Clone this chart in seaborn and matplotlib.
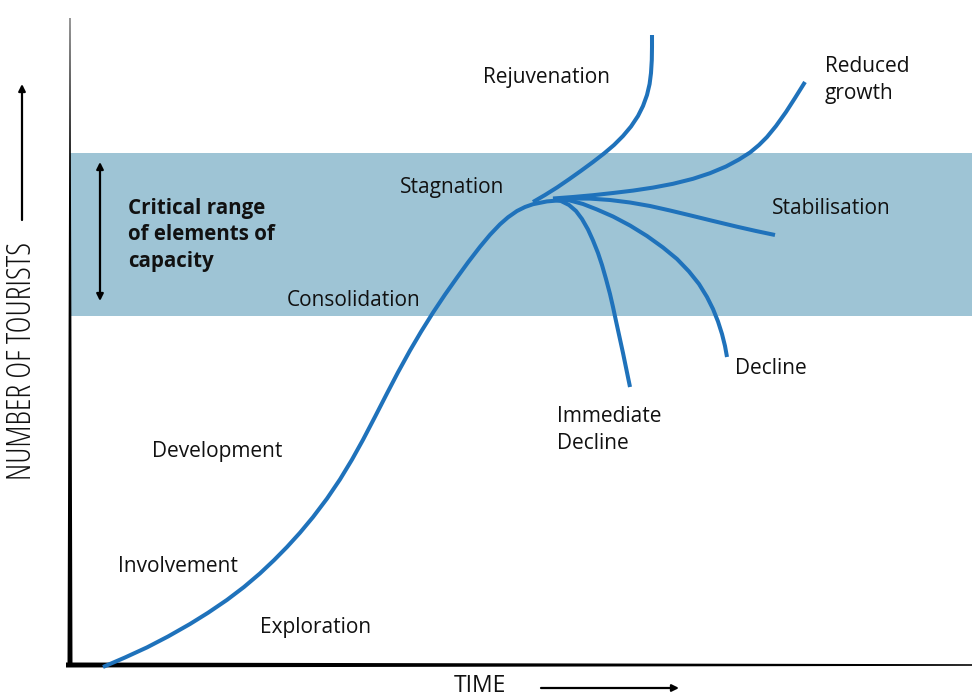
import numpy as np
import pandas as pd
import matplotlib
matplotlib.use("Agg")
import matplotlib.pyplot as plt
import seaborn as sns

# ---- data (time, tourists) (pixel space of the drawing) ----
main_t = [103, 125, 147, 168, 190, 208, 227, 244, 260, 274, 287, 300, 313, 327, 340, 352, 363,
          375, 387, 398, 410, 421, 433, 445, 457, 468, 480, 490, 500, 508, 517, 525, 533, 547, 560]
main_n = [667, 657.5, 647.4, 636.5, 624, 612.8, 599.9, 587, 573.4, 560.2, 547, 532.7, 517.1,
          498.6, 479.4, 459.6, 439.8, 416.8, 393.4, 372.3, 350.5, 331.8, 312.6, 294.6, 277.6,
          262.4, 246.8, 234.8, 224.3, 217.3, 211, 207, 204.2, 201.4, 200.3]

rejuv_t = [533, 545, 557, 569, 581, 593, 604, 614, 623, 631, 638, 643, 647, 649.6, 651, 651.8, 652, 652]
rejuv_n = [202, 195, 187.5, 179.3, 170.8, 162, 153.5, 145, 136, 126.5, 116, 106, 95, 84, 73, 60, 47, 35]

reduced_t = [553, 573, 593, 613, 633, 653, 673, 693, 710, 726, 739, 750, 759, 767, 776, 786, 795, 805]
reduced_n = [198.5, 197, 195.2, 193, 190.6, 187.6, 183.8, 178.8, 173.2, 166.5, 159.5, 152.5,
             145, 137, 126, 112, 98, 82]

stab_t = [553, 570, 590, 610, 630, 650, 670, 690, 712, 737, 756, 775]
stab_n = [199.5, 198.5, 198.6, 200, 202.5, 206, 210.5, 215.3, 220.7, 226.7, 231, 235]

decl_t = [560, 570, 583, 597, 613, 630, 647, 663, 677, 689, 699, 707, 713, 718, 722, 725, 727]
decl_n = [199, 200.5, 204, 209.5, 216.5, 225.5, 236, 247.5, 259, 271.5, 284, 297, 309, 321.5,
          334, 346, 357]

imm_t = [553, 561, 569, 576, 582, 588, 593, 598, 602, 606, 610, 613, 616, 619.5, 623, 626.5, 630]
imm_n = [199.5, 201, 205, 211, 219, 229.5, 240.5, 253, 265, 279, 294, 307, 321, 337, 353, 370, 387]

curves = {"main": (main_t, main_n), "rejuvenation": (rejuv_t, rejuv_n),
          "reduced": (reduced_t, reduced_n), "stabilisation": (stab_t, stab_n),
          "decline": (decl_t, decl_n), "immediate": (imm_t, imm_n)}

band_low, band_high = 316, 153

stage_labels = ["Rejuvenation", "Reduced\ngrowth", "Stagnation", "Stabilisation",
                "Consolidation", "Decline", "Immediate\nDecline", "Development",
                "Involvement", "Exploration"]
label_t = [483, 825, 400, 772, 287, 735, 557, 152, 118, 260]
label_n = [78, 80, 187, 209, 300, 368, 430, 452, 567, 627]

band_text = "Critical range\nof elements of\ncapacity"
xlabel = "TIME"
ylabel = "NUMBER OF TOURISTS"

# ---- drawing ----
sns.set_theme(style="white")
plt.rcParams["font.family"] = ["Open Sans", "DejaVu Sans"]

fig = plt.figure(figsize=(9.72, 6.99), dpi=100)
ax = fig.add_axes([0, 0, 1, 1])

blue = "#1f72bb"
band_col = "#9ec4d5"

ax.axhspan(band_high, band_low, xmin=70 / 972, xmax=1, color=band_col, zorder=0, lw=0)

# tapered axes
ax.fill([69.6, 70.4, 72.5, 67.5], [18, 18, 667, 667], color="black", lw=0, zorder=3)
ax.fill([66, 66, 972, 972], [662.5, 667.5, 665.8, 664.2], color="black", lw=0, zorder=3)

rows = []
for name, (t, n) in curves.items():
    for i, (a, b) in enumerate(zip(t, n)):
        rows.append({"curve": name, "order": i, "time": a, "tourists": b})
df = pd.DataFrame(rows)
for name in curves:
    sub = df[df.curve == name]
    sns.lineplot(data=sub, x="time", y="tourists", sort=False, ax=ax, color=blue,
                 lw=2.9, solid_capstyle="butt", solid_joinstyle="round", zorder=4,
                 estimator=None, legend=False)
ax.set_xlim(0, 972)
ax.set_ylim(699, 0)
ax.axis("off")

fs = 15.0
for s, x, y in zip(stage_labels, label_t, label_n):
    ax.text(x, y, s, fontsize=fs, ha="left", va="center", color="#111111",
            linespacing=1.38, zorder=5)

ax.text(128, 235, band_text, fontsize=14.8, fontweight="bold", ha="left", va="center",
        color="#111111", linespacing=1.36, zorder=5)

# double arrow in band
ax.annotate("", xy=(100, 162), xytext=(100, 301),
            arrowprops=dict(arrowstyle="<|-|>", color="black", lw=1.6,
                            mutation_scale=10, shrinkA=0, shrinkB=0))

# axis titles
ax.text(22, 361, ylabel, rotation=90, fontsize=23.5, ha="center", va="center",
        color="#111111", fontstretch="condensed")
ax.annotate("", xy=(22, 84), xytext=(22, 220),
            arrowprops=dict(arrowstyle="-|>", color="black", lw=1.6,
                            mutation_scale=10, shrinkA=0, shrinkB=0))
ax.text(480, 698, xlabel, fontsize=16.5, ha="center", va="bottom", color="#111111")
ax.annotate("", xy=(679, 688), xytext=(541, 688),
            arrowprops=dict(arrowstyle="-|>", color="black", lw=1.6,
                            mutation_scale=10, shrinkA=0, shrinkB=0))

fig.savefig("out.png", dpi=100)
